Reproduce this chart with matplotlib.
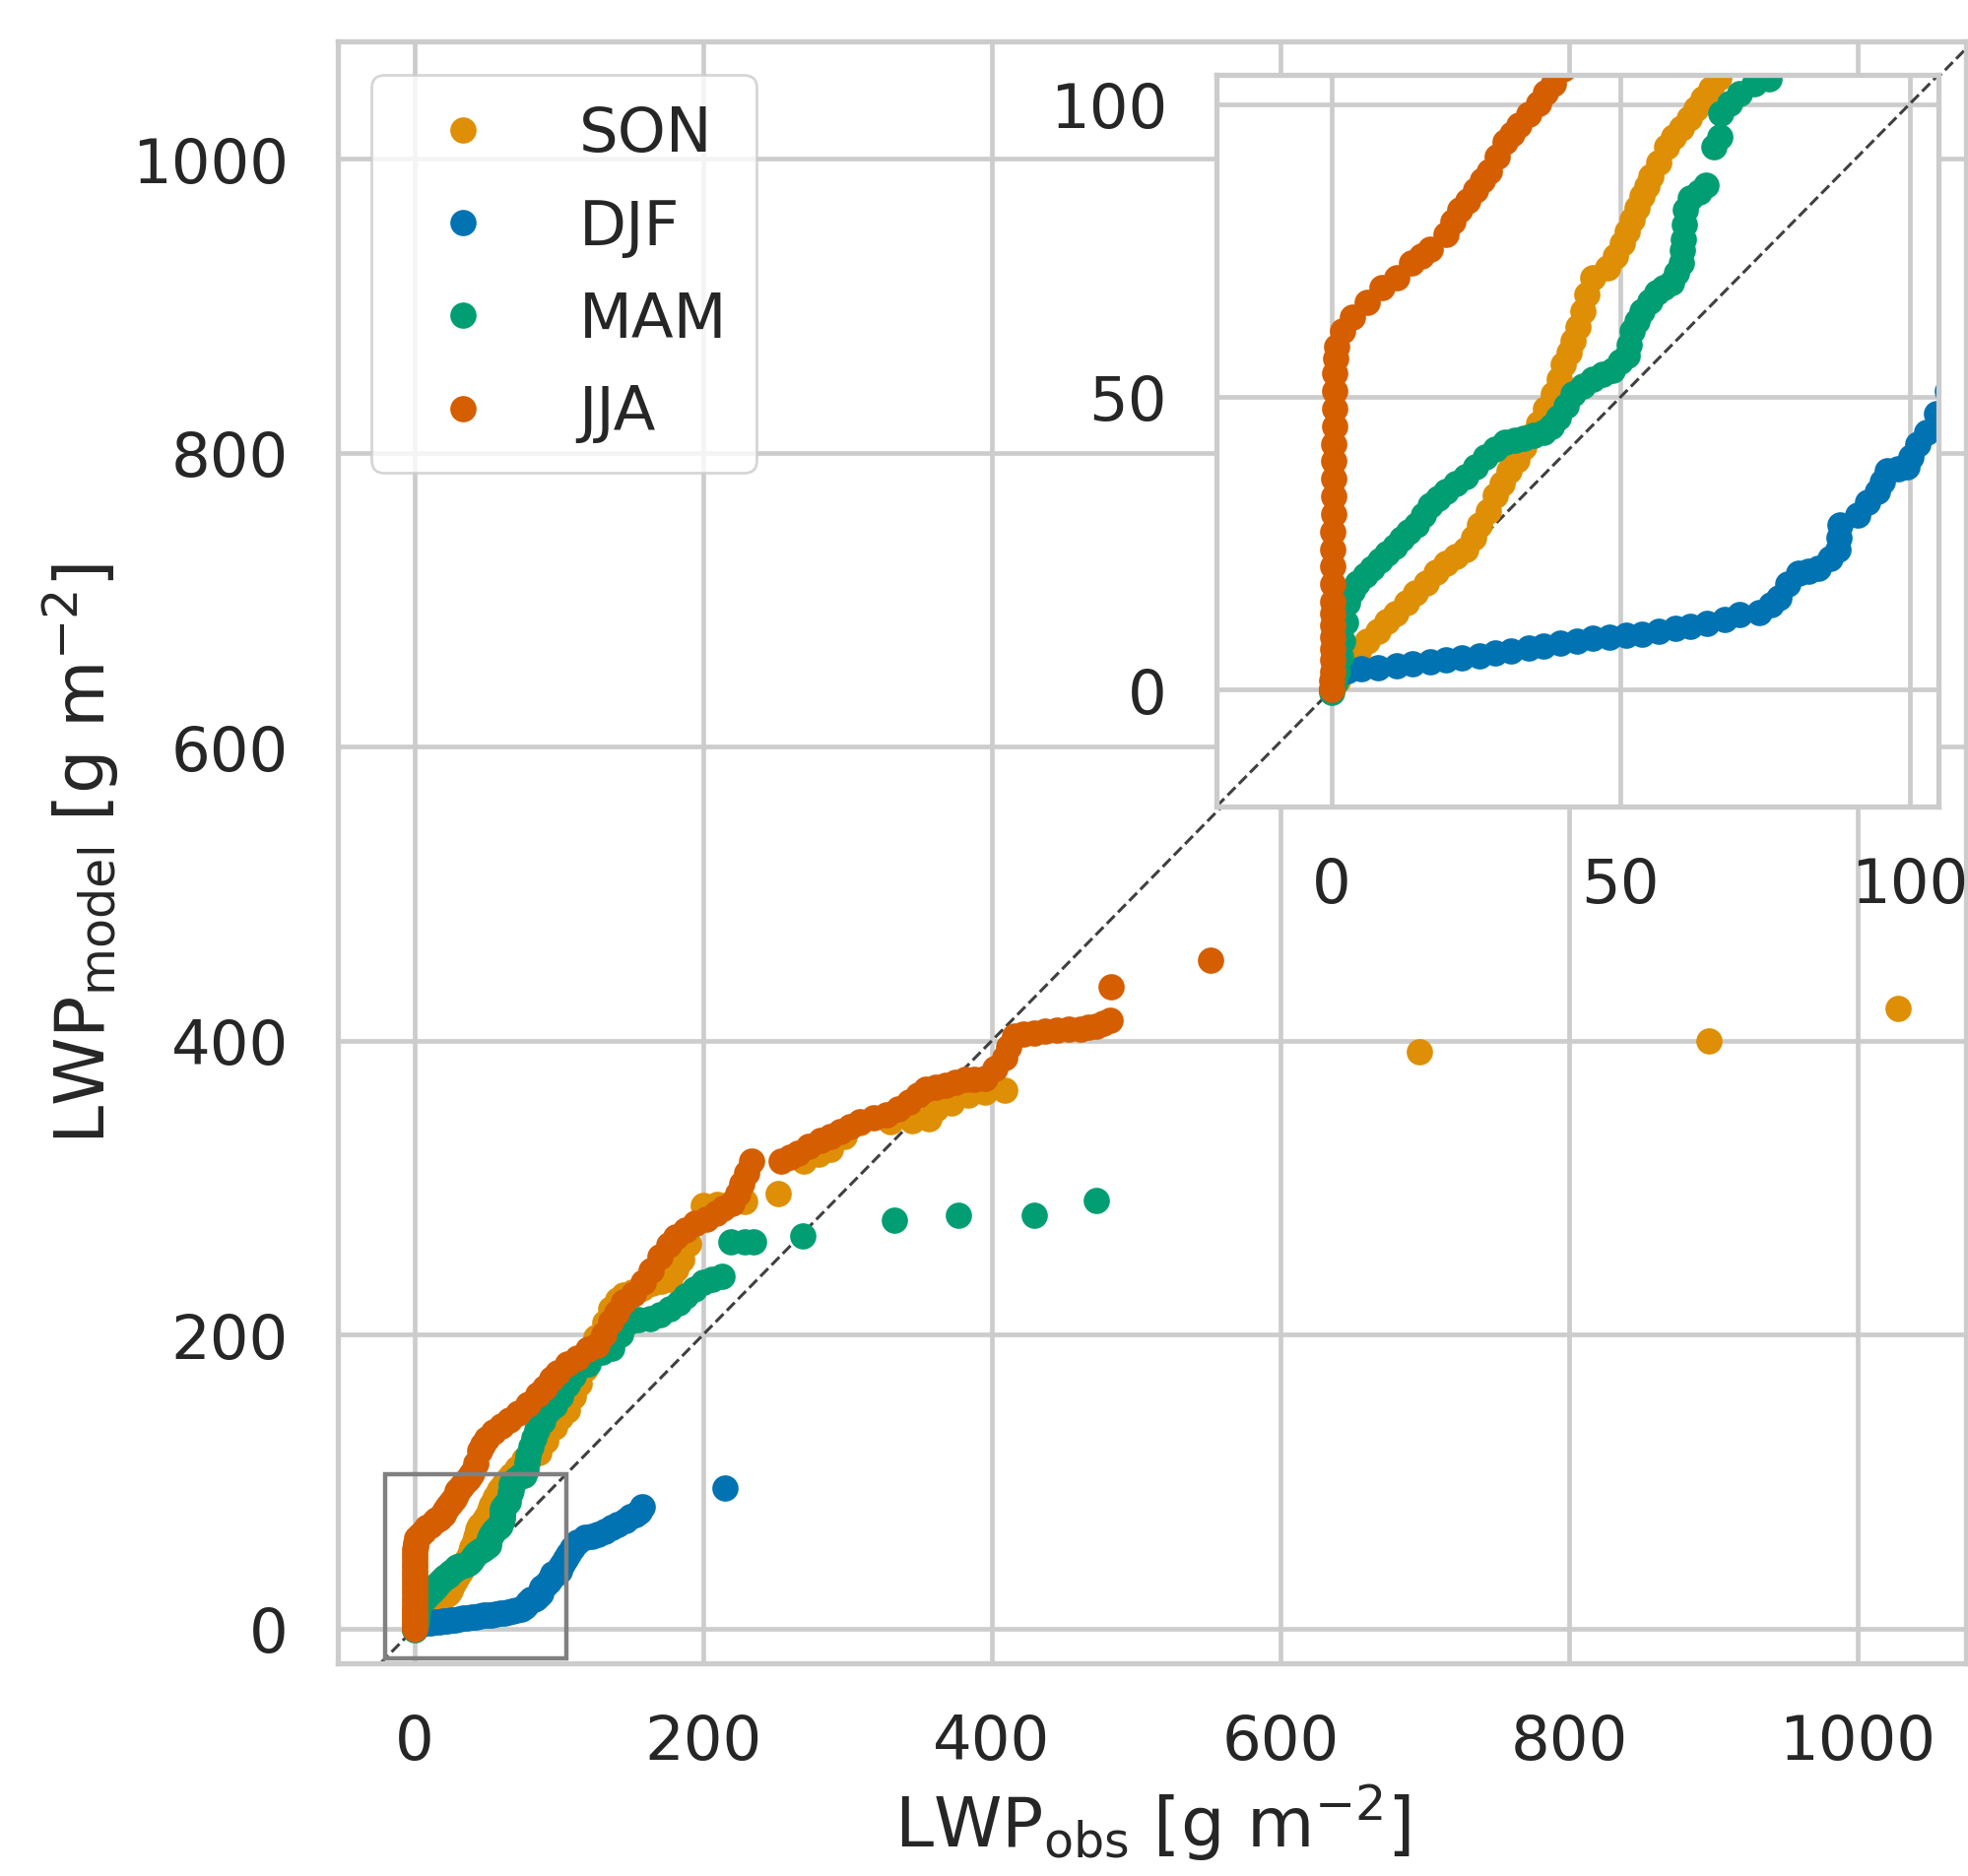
import matplotlib.pyplot as plt
import numpy as np
import seaborn as sns

sns.set_theme(style='whitegrid')
plt.rcParams['font.family'] = ['DejaVu Sans']

# quantile pairs (obs, model) in g m-2
son = [(0, 0), (1, 1.5), (2.7, 4.1), (4.5, 6.5), (6.1, 8.3), (8, 10), (9.5, 11.6), (11, 13),
       (12.9, 14.9), (14.5, 16.5), (16.3, 18.2), (18, 20), (19.7, 21.5), (21.5, 22.8), (23.1, 24),
       (24.5, 26), (25.6, 28.1), (27, 30.5), (28.2, 33.1), (29.5, 35.2), (30.7, 37.3), (32, 39.3),
       (33.3, 41.4), (34.5, 43.5), (35.8, 45.5), (37, 48), (38.4, 50.5), (39.3, 53), (40.1, 55.5),
       (41, 57.5), (41.8, 59.6), (42.6, 62), (43.5, 64.6), (44.2, 67.5), (45.2, 70.4), (47.7, 72),
       (49, 74), (50.3, 76.2), (51.2, 78.3), (52, 80.3), (52.8, 82.3), (53.7, 84.4), (54.5, 86),
       (55.3, 87.7), (56.5, 90), (57.9, 92.7), (59.2, 94.5), (60.5, 96), (61.8, 97.6), (63, 99.3),
       (64.3, 101), (65.6, 102.6), (67, 104.5), (71, 109), (76, 115), (81, 118), (86, 120),
       (91, 128), (97, 137), (101, 144), (106, 148.5), (110, 158), (114, 167), (118, 177),
       (121, 187.5), (126, 198), (132, 208), (136, 218), (141, 224), (145, 227), (151, 229),
       (158, 232), (165, 235), (171, 236.5), (177, 238), (181, 244.6), (185, 251), (190, 262),
       (195, 276), (200, 288), (210, 289), (220, 290), (229, 290.5), (252, 296), (270, 318),
       (280, 323), (288, 326), (298, 335), (309, 344), (330, 345), (345, 346), (356.5, 347.3),
       (361, 354), (372, 358), (384, 363), (395, 365), (409, 366.3), (696, 392.6), (897, 400),
       (1028, 422)]

djf = [(0, 0), (0.5, 1.5), (1.5, 2.8), (2.7, 3.3), (5, 3.5), (8, 3.8), (11.2, 4.1), (14, 4.4),
       (17, 4.7), (19.7, 5), (22.5, 5.4), (25.5, 5.8), (28.2, 6.2), (31, 6.6), (34, 7.1),
       (36.7, 7.5), (39.5, 7.9), (42.5, 8.3), (45.2, 8.7), (48, 9), (51, 9.3), (53.7, 9.5),
       (56.5, 9.9), (59.5, 10.4), (62.1, 10.8), (65, 11.3), (68, 12), (70.6, 12.8), (74, 13.2),
       (76, 14.5), (77.4, 15.7), (79, 18), (80.8, 19.9), (82.5, 20.3), (84.2, 20.7), (86.2, 22.4),
       (87.6, 24), (87.8, 26), (88, 28.1), (91, 29.8), (92.8, 32), (94.4, 33.9), (95.3, 35.6),
       (96.1, 37.3), (98, 37.7), (99.5, 38.1), (100.3, 39.7), (101.5, 42), (102.9, 43.9),
       (104.6, 47.2), (106.5, 51), (109.5, 55), (113, 59), (118, 62), (123, 63), (127, 64),
       (132, 66), (137, 69), (141, 71), (146, 73.5), (150, 76), (153, 78), (155.5, 80),
       (158, 83), (215.5, 96)]

mam = [(0, -0.5), (0.5, 1), (1, 3), (1.5, 5.5), (1.9, 8.3), (2.3, 11.5), (2.7, 14.9), (3.5, 16.8),
       (4.4, 18.2), (5.7, 19.5), (7, 20.7), (8.3, 22), (9.5, 23.2), (10.8, 24.5), (12.1, 25.7),
       (13.3, 27), (14.6, 28.1), (15.8, 29.8), (17.1, 31.5), (18.4, 32.7), (19.7, 33.9),
       (21.4, 35.2), (23.1, 36.4), (24.8, 38), (26.5, 39.7), (28.2, 41), (29.9, 42.2),
       (31.6, 42.6), (33.3, 43), (35, 43.4), (36.7, 43.9), (38, 45), (39.2, 46.4), (40.5, 48.5),
       (41.8, 50.5), (43.5, 51.8), (45.2, 53), (46.9, 53.8), (48.6, 54.6), (50, 56), (51.1, 57.1),
       (51.5, 59), (52, 61.3), (52.8, 63), (53.7, 64.6), (55, 66.3), (56.2, 67.9), (57.5, 68.7),
       (58.8, 69.5), (59.7, 71.2), (60.5, 72.8), (60.7, 75), (60.9, 77), (61, 79.5), (61.2, 82),
       (62, 84), (63.5, 85), (64.8, 86.1), (66.1, 92.7), (67.2, 94.4), (67.4, 98.5),
       (68.9, 100.2), (70.6, 101.8), (73.2, 103.5), (75.7, 104.3), (77, 108), (78, 113),
       (79, 118), (81, 124), (83, 130), (85, 135), (89, 141), (93, 148.5), (97, 152), (101, 158),
       (106, 166), (110, 172), (115, 178.8), (120, 180.5), (124, 186), (130, 188), (137, 191),
       (143, 200), (149, 209), (155, 210), (163, 211), (170, 214), (177, 218), (183, 222),
       (188, 226.7), (194, 231), (200, 235.6), (206, 238), (213, 240), (219, 263.5),
       (229, 263.5), (235, 263.5), (269, 267), (332.5, 278), (377, 281.4), (429.4, 281.4),
       (472.6, 291.5)]

jja = [(0, 0), (0, 1.5), (0.1, 3), (0.1, 5), (0.1, 7), (0.1, 9), (0.2, 11), (0.2, 13), (0.2, 15),
       (0.2, 18), (0.2, 21), (0.2, 24), (0.2, 27), (0.3, 30), (0.3, 33), (0.3, 36), (0.3, 39),
       (0.3, 42), (0.4, 45), (0.4, 48), (0.5, 51), (0.5, 54), (0.6, 56.5), (0.8, 58.5),
       (1.9, 61.3), (3.6, 63.7), (6.1, 66.2), (8.7, 68.7), (11.2, 70.4), (13.8, 72.8), (15.5, 74),
       (17.1, 75.3), (19.7, 77.8), (21, 80), (22.2, 82), (23.5, 83.5), (24.8, 85.3), (26, 87),
       (27.3, 88.6), (28.6, 91), (29.9, 93.5), (31.2, 95), (32.4, 96.4), (34, 98.3),
       (35.8, 100.2), (37, 102), (38.4, 103.5), (40, 106), (42.5, 112.8), (45, 121),
       (47.5, 125), (50, 129), (55, 134), (60, 138), (66, 142), (72, 147), (79, 153),
       (85.8, 159.7), (90, 164), (95, 170), (99.5, 174), (106, 180), (113, 184.3), (120, 190),
       (126.8, 193.2), (131, 200), (135.8, 208.8), (140, 215), (145, 222.2), (152, 228),
       (158.6, 235.6), (164, 244), (170, 253.5), (176, 261), (181.4, 266.9), (188, 271),
       (195, 275.8), (202, 279), (208.7, 282.5), (214, 286), (220, 289.3), (224, 296),
       (226.8, 302.7), (230, 310), (233.7, 318.3), (254, 318.3), (260, 321), (265.5, 323.8),
       (273, 328), (281.4, 332), (288, 335), (295, 338.4), (302, 341.5), (308.7, 345),
       (318, 347.5), (327, 349.5), (335, 354), (343, 358.5), (349, 363), (354.3, 367.4),
       (361, 368.5), (368, 369.7), (375, 372), (381.6, 374), (388, 374), (395.2, 374.5),
       (402, 381), (408.9, 388.6), (412, 396), (415.7, 403.1), (422, 404.5), (429.4, 405.4),
       (437, 406.5), (445.3, 407.6), (453, 407.8), (461.2, 408), (467, 409), (472.6, 409.8),
       (477, 412), (481.7, 414.3), (482.8, 436.7), (551.8, 455)]

seasons = ['SON', 'DJF', 'MAM', 'JJA']
data = {'SON': son, 'DJF': djf, 'MAM': mam, 'JJA': jja}
pal = sns.color_palette('colorblind')
colors = {'SON': pal[1], 'DJF': pal[0], 'MAM': pal[2], 'JJA': pal[3]}

fs = 22.5
ms = 9.6

fig = plt.figure(figsize=(1999 / 200, 1906 / 200), dpi=200)
ax = fig.add_axes([343 / 1999, 1 - 1690 / 1906, 1653 / 1999, 1647 / 1906])
axins = ax.inset_axes([0.5396, 0.5282, 0.4434, 0.4511])

for a in (ax, axins):
    a.axline((0, 0), slope=1, ls='--', color='0.25', lw=1.1, zorder=1)
    for s in seasons:
        arr = np.array(data[s])
        a.plot(arr[:, 0], arr[:, 1], 'o', ms=ms, mew=0, color=colors[s], label=s, zorder=2)
    a.tick_params(labelsize=fs, length=0, pad=18)
    a.grid(True, color='0.8', lw=1.7)
    for sp in a.spines.values():
        sp.set_color('0.8')
        sp.set_linewidth(1.9)

ax.set_xlim(-53, 1075)
ax.set_ylim(-23.5, 1080)
ax.set_xticks([0, 200, 400, 600, 800, 1000])
ax.set_yticks([0, 200, 400, 600, 800, 1000])

axins.set_xlim(-20, 105)
axins.set_ylim(-20, 105)
axins.set_xticks([0, 50, 100])
axins.set_yticks([0, 50, 100])

ax.indicate_inset_zoom(axins, edgecolor='0.5', alpha=1, lw=1.6)

ax.set_xlabel(r'LWP$_\mathrm{obs}$ [g m$^{-2}$]', fontsize=25.3)
ax.set_ylabel(r'LWP$_\mathrm{model}$ [g m$^{-2}$]', fontsize=25.3)

ax.legend(loc='upper left', fontsize=fs, labelspacing=0.55, handletextpad=0.88,
          borderpad=0.48, borderaxespad=0.55)

fig.savefig('out.png', dpi=200)
